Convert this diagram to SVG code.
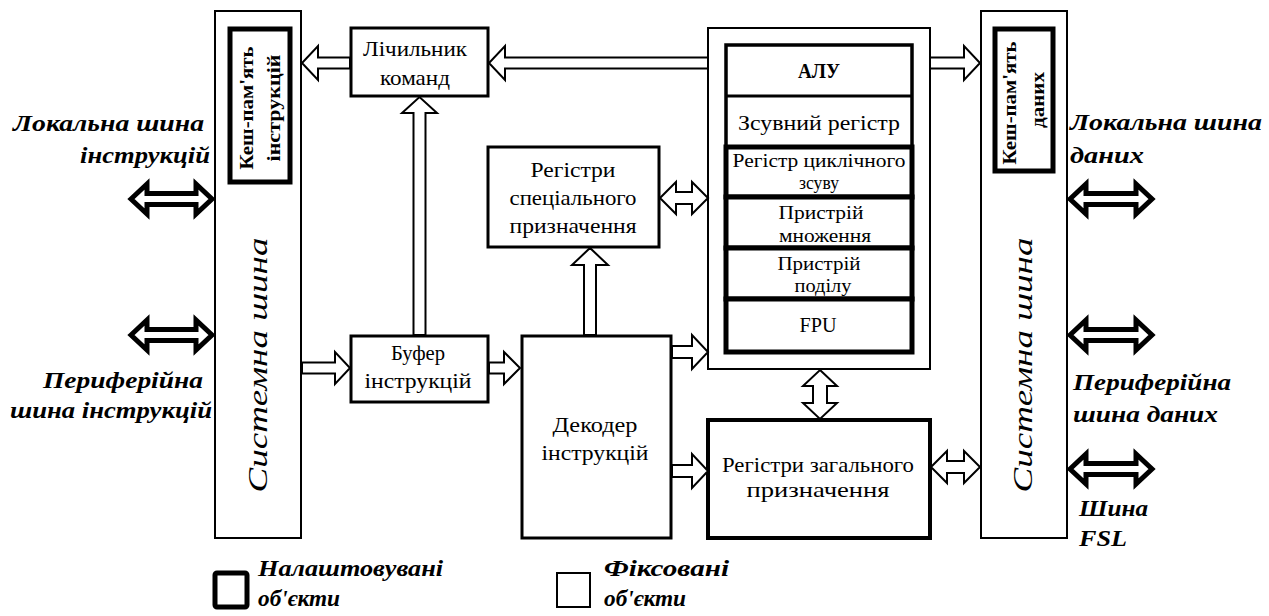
<svg xmlns="http://www.w3.org/2000/svg" width="1269" height="616" viewBox="0 0 1269 616">
  <style>
    .box { fill: #fff; stroke: #000; stroke-width: 3; }
    .thin { fill: #fff; stroke: #000; stroke-width: 2; }
    .thick { fill: #fff; stroke: #000; stroke-width: 5; }
    .arr { fill: #fff; stroke: #000; stroke-width: 2; stroke-linejoin: miter; }
    .bold-arr { fill: #fff; stroke: #000; stroke-width: 5; stroke-linejoin: miter; }
    .t { font-family: "Liberation Serif", "Times New Roman", serif; font-size: 21px; fill: #000; text-anchor: middle; }
    .ts { font-family: "Liberation Serif", "Times New Roman", serif; font-size: 19px; fill: #000; text-anchor: middle; }
    .lbl { font-family: "Liberation Serif", "Times New Roman", serif; font-size: 24px; font-style: italic; font-weight: bold; fill: #000; }
    .bus { font-family: "Liberation Serif", "Times New Roman", serif; font-size: 27px; font-style: italic; fill: #000; text-anchor: middle; }
    .cache { font-family: "Liberation Serif", "Times New Roman", serif; font-size: 18px; font-weight: bold; fill: #000; text-anchor: middle; }
  </style>

  <!-- left system bus with instruction cache -->
  <g id="bus-left">
    <rect class="thin" x="215" y="11" width="86" height="527"/>
    <rect class="thick" x="230" y="29" width="60" height="153"/>
    <text class="cache" transform="translate(247,108) rotate(-90)" dominant-baseline="central" textLength="123" lengthAdjust="spacingAndGlyphs">Кеш-пам'ять</text>
    <text class="cache" transform="translate(274,108) rotate(-90)" dominant-baseline="central" textLength="107" lengthAdjust="spacingAndGlyphs">інструкцій</text>
    <text class="bus" transform="translate(258,365) rotate(-90)" dominant-baseline="central" textLength="255" lengthAdjust="spacingAndGlyphs">Системна шина</text>
  </g>

  <!-- right system bus with data cache -->
  <g id="bus-right">
    <rect class="thin" x="981" y="11" width="86" height="527"/>
    <rect class="thick" x="995" y="29" width="58" height="142"/>
    <text class="cache" transform="translate(1010,103) rotate(-90)" dominant-baseline="central" textLength="123" lengthAdjust="spacingAndGlyphs">Кеш-пам'ять</text>
    <text class="cache" transform="translate(1038,100) rotate(-90)" dominant-baseline="central" textLength="56" lengthAdjust="spacingAndGlyphs">даних</text>
    <text class="bus" transform="translate(1023,365) rotate(-90)" dominant-baseline="central" textLength="255" lengthAdjust="spacingAndGlyphs">Системна шина</text>
  </g>

  <g id="program-counter">
    <rect class="box" x="351" y="28" width="137" height="68"/>
    <text class="t" x="415" y="56" textLength="104" lengthAdjust="spacingAndGlyphs">Лічильник</text>
    <text class="t" x="415" y="85" textLength="70" lengthAdjust="spacingAndGlyphs">команд</text>
  </g>

  <g id="instr-buffer">
    <rect class="box" x="351" y="336" width="137" height="66"/>
    <text class="t" x="418" y="360" textLength="54" lengthAdjust="spacingAndGlyphs">Буфер</text>
    <text class="t" x="418" y="388" textLength="107" lengthAdjust="spacingAndGlyphs">інструкцій</text>
  </g>

  <g id="special-regs">
    <rect class="box" x="488" y="147" width="171" height="100"/>
    <text class="t" x="573" y="177" textLength="85" lengthAdjust="spacingAndGlyphs">Регістри</text>
    <text class="t" x="573" y="205" textLength="127" lengthAdjust="spacingAndGlyphs">спеціального</text>
    <text class="t" x="573" y="233" textLength="127" lengthAdjust="spacingAndGlyphs">призначення</text>
  </g>

  <g id="decoder">
    <rect class="box" x="522" y="336" width="149" height="202"/>
    <text class="t" x="595" y="432" textLength="85" lengthAdjust="spacingAndGlyphs">Декодер</text>
    <text class="t" x="595" y="460" textLength="107" lengthAdjust="spacingAndGlyphs">інструкцій</text>
  </g>

  <!-- execution units -->
  <g id="alu-block">
    <rect class="thin" x="708" y="28" width="222" height="341"/>
    <rect fill="#fff" stroke="#000" stroke-width="3.5" x="726" y="45" width="186" height="102"/>
    <line x1="726" y1="96" x2="912" y2="96" stroke="#000" stroke-width="3"/>
    <rect class="thick" x="726" y="147" width="186" height="50"/>
    <rect class="thick" x="726" y="197" width="186" height="51"/>
    <rect class="thick" x="726" y="248" width="186" height="51"/>
    <rect class="thick" x="726" y="299" width="186" height="53"/>
    <text class="t" x="819" y="78" font-weight="bold" font-size="19" textLength="42" lengthAdjust="spacingAndGlyphs">АЛУ</text>
    <text class="t" x="819" y="130" textLength="162" lengthAdjust="spacingAndGlyphs">Зсувний регістр</text>
    <text class="ts" x="819" y="167" textLength="173" lengthAdjust="spacingAndGlyphs">Регістр циклічного</text>
    <text class="ts" x="819" y="189" textLength="40" lengthAdjust="spacingAndGlyphs">зсуву</text>
    <text class="ts" x="821" y="219" textLength="85" lengthAdjust="spacingAndGlyphs">Пристрій</text>
    <text class="ts" x="825" y="242" textLength="92" lengthAdjust="spacingAndGlyphs">множення</text>
    <text class="ts" x="819" y="270" textLength="83" lengthAdjust="spacingAndGlyphs">Пристрій</text>
    <text class="ts" x="823" y="292" textLength="57" lengthAdjust="spacingAndGlyphs">поділу</text>
    <text class="t" x="818" y="332" textLength="37" lengthAdjust="spacingAndGlyphs">FPU</text>
  </g>

  <g id="general-regs">
    <rect fill="#fff" stroke="#000" stroke-width="4" x="708" y="420" width="222" height="118"/>
    <text class="t" x="818" y="472" font-size="22" textLength="192" lengthAdjust="spacingAndGlyphs">Регістри загального</text>
    <text class="t" x="818" y="497" font-size="22" textLength="143" lengthAdjust="spacingAndGlyphs">призначення</text>
  </g>

  <!-- connectors -->
  <g id="connectors">
    <!-- program counter to instruction cache side -->
    <polygon class="arr" points="350,57.5 318,57.5 318,46 302,63 318,80 318,68.5 350,68.5"/>
    <!-- execution block to program counter -->
    <polygon class="arr" points="708,57.5 505,57.5 505,46 489,63 505,80 505,68.5 708,68.5"/>
    <!-- execution block to data bus -->
    <polygon class="arr" points="930,57.5 964,57.5 964,46 980,63 964,80 964,68.5 930,68.5"/>
    <!-- buffer up to program counter -->
    <polygon class="arr" points="413.5,335 413.5,113 402,113 419.5,97 437,113 425.5,113 425.5,335"/>
    <!-- decoder up to special registers -->
    <polygon class="arr" points="584,335 584,265 572,265 590,248 608,265 596,265 596,335"/>
    <!-- bus to buffer -->
    <polygon class="arr" points="302,362.5 335,362.5 335,352 350,368 335,384 335,373.5 302,373.5"/>
    <!-- buffer to decoder -->
    <polygon class="arr" points="489,362.5 504,362.5 504,352 520,368 504,384 504,373.5 489,373.5"/>
    <!-- decoder to execution block -->
    <polygon class="arr" points="672,346 692,346 692,335 708,352 692,369 692,358 672,358"/>
    <!-- decoder to general registers -->
    <polygon class="arr" points="672,465 692,465 692,454 708,471 692,488 692,477 672,477"/>
    <!-- special registers <-> execution block -->
    <polygon class="arr" points="660,198 676,182 676,192 692,192 692,182 708,198 692,214 692,204 676,204 676,214"/>
    <!-- execution block <-> general registers -->
    <polygon class="arr" points="820,370 837,386 827,386 827,403 837,403 820,419 803,403 813,403 813,386 803,386"/>
    <!-- general registers <-> data bus -->
    <polygon class="arr" points="931,467 947,451 947,461 964,461 964,451 980,467 964,483 964,473 947,473 947,483"/>

    <!-- external buses -->
    <polygon class="bold-arr" points="131,199 147,184 147,193.5 196,193.5 196,184 212,199 196,214 196,204.5 147,204.5 147,214"/>
    <polygon class="bold-arr" points="131,335 147,320 147,329.5 196,329.5 196,320 212,335 196,350 196,340.5 147,340.5 147,350"/>
    <polygon class="bold-arr" points="1070,199 1086,184 1086,193.5 1136,193.5 1136,184 1152,199 1136,214 1136,204.5 1086,204.5 1086,214"/>
    <polygon class="bold-arr" points="1070,335 1086,320 1086,329.5 1136,329.5 1136,320 1152,335 1136,350 1136,340.5 1086,340.5 1086,350"/>
    <polygon class="bold-arr" points="1070,469 1086,454 1086,463.5 1136,463.5 1136,454 1152,469 1136,484 1136,474.5 1086,474.5 1086,484"/>
  </g>

  <!-- bus labels -->
  <g id="labels">
    <text class="lbl" x="13" y="131" textLength="191" lengthAdjust="spacingAndGlyphs">Локальна шина</text>
    <text class="lbl" x="80" y="163" textLength="130" lengthAdjust="spacingAndGlyphs">інструкцій</text>
    <text class="lbl" x="43" y="388" textLength="160" lengthAdjust="spacingAndGlyphs">Периферійна</text>
    <text class="lbl" x="10" y="418" textLength="202" lengthAdjust="spacingAndGlyphs">шина інструкцій</text>
    <text class="lbl" x="1070" y="130" textLength="192" lengthAdjust="spacingAndGlyphs">Локальна шина</text>
    <text class="lbl" x="1070" y="163" textLength="74" lengthAdjust="spacingAndGlyphs">даних</text>
    <text class="lbl" x="1073" y="390" textLength="158" lengthAdjust="spacingAndGlyphs">Периферійна</text>
    <text class="lbl" x="1073" y="422" textLength="145" lengthAdjust="spacingAndGlyphs">шина даних</text>
    <text class="lbl" x="1079" y="516" textLength="69" lengthAdjust="spacingAndGlyphs">Шина</text>
    <text class="lbl" x="1079" y="546" textLength="48" lengthAdjust="spacingAndGlyphs">FSL</text>
  </g>

  <!-- legend -->
  <g id="legend-configurable">
    <rect class="thick" x="215" y="573" width="32" height="34" rx="2"/>
    <text class="lbl" x="258" y="576" textLength="185" lengthAdjust="spacingAndGlyphs">Налаштовувані</text>
    <text class="lbl" x="258" y="606" textLength="82" lengthAdjust="spacingAndGlyphs">об'єкти</text>
  </g>
  <g id="legend-fixed">
    <rect class="thin" x="557" y="573" width="33" height="34" stroke-width="2.5"/>
    <text class="lbl" x="604" y="576" textLength="125" lengthAdjust="spacingAndGlyphs">Фіксовані</text>
    <text class="lbl" x="604" y="606" textLength="82" lengthAdjust="spacingAndGlyphs">об'єкти</text>
  </g>
</svg>
